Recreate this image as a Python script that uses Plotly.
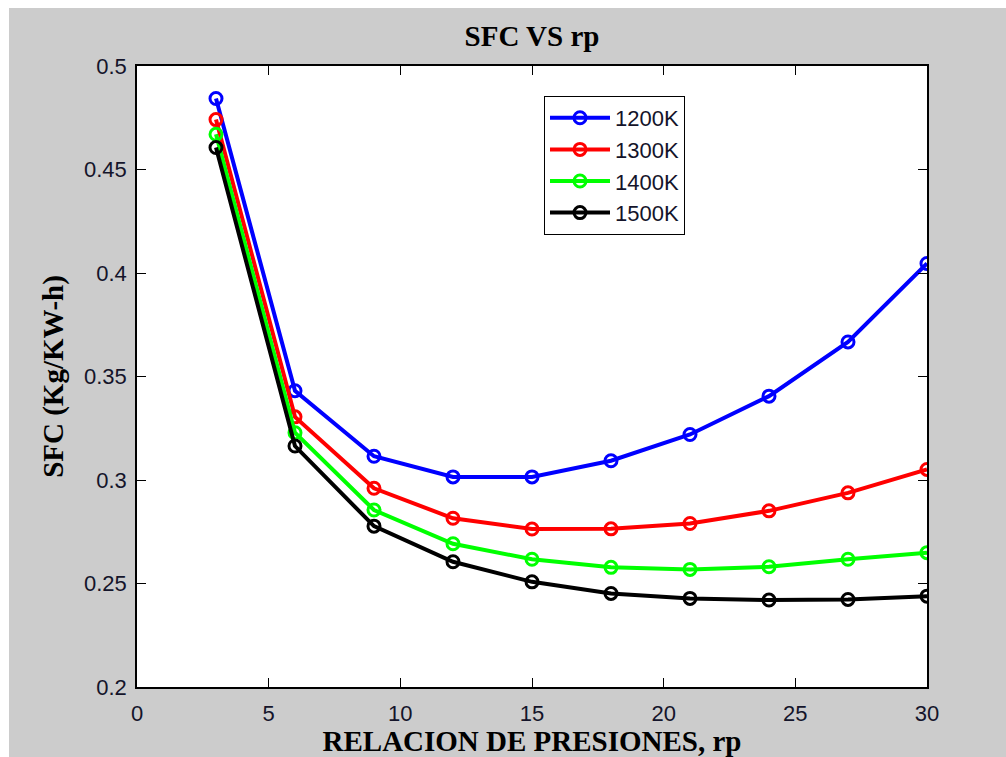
import plotly.graph_objects as go

# Specific fuel consumption vs compressor pressure ratio, for four turbine inlet temperatures
rp = [3, 6, 9, 12, 15, 18, 21, 24, 27, 30]
series_names = ["1200K", "1300K", "1400K", "1500K"]
sfc_1200 = [0.4843, 0.3431, 0.3115, 0.3015, 0.3015, 0.3093, 0.3220, 0.3405, 0.3667, 0.4046]
sfc_1300 = [0.4741, 0.3305, 0.2960, 0.2815, 0.2763, 0.2764, 0.2790, 0.2851, 0.2938, 0.3051]
sfc_1400 = [0.4670, 0.3228, 0.2855, 0.2692, 0.2617, 0.2578, 0.2568, 0.2581, 0.2617, 0.2649]
sfc_1500 = [0.4606, 0.3164, 0.2777, 0.2605, 0.2508, 0.2452, 0.2428, 0.2420, 0.2423, 0.2439]
series_values = [sfc_1200, sfc_1300, sfc_1400, sfc_1500]
series_colors = ["#0000ff", "#ff0000", "#00ff00", "#000000"]

x_ticks = [0, 5, 10, 15, 20, 25, 30]
y_ticks = [0.2, 0.25, 0.3, 0.35, 0.4, 0.45, 0.5]

W, H = 1006, 757
ML, MR, MT, MB = 137, 79, 66, 70
PW, PH = W - ML - MR, H - MT - MB

SERIF = "Liberation Serif"
SANS = "Liberation Sans"
TXT = "#14142a"

fig = go.Figure()
for name, vals, col in zip(series_names, series_values, series_colors):
    fig.add_trace(go.Scatter(
        x=rp, y=vals, name=name, mode="lines+markers",
        line=dict(color=col, width=4),
        marker=dict(symbol="circle-open", size=12, color=col, line=dict(color=col, width=3)),
    ))

axis_common = dict(
    showline=True, linecolor="black", linewidth=1.5, mirror="ticks",
    ticks="inside", ticklen=9, tickwidth=1, tickcolor="black",
    showgrid=False, zeroline=False, automargin=False,
    tickfont=dict(family=SANS, size=22, color=TXT),
)

fig.update_layout(
    width=W, height=H,
    margin=dict(l=ML, r=MR, t=MT, b=MB, autoexpand=False),
    paper_bgcolor="#cccccc", plot_bgcolor="white",
    title=dict(text="SFC VS rp", x=0.5, xref="paper", xanchor="center",
               y=1 - 36 / H, yref="container", yanchor="middle",
               font=dict(family=SERIF, size=29, color="black", weight="bold")),
    xaxis=dict(range=[0, 30], tickvals=x_ticks, ticklabelstandoff=6,
               title=dict(text="RELACION DE PRESIONES, rp", standoff=4,
                          font=dict(family=SERIF, size=29, color="black", weight="bold")),
               **axis_common),
    yaxis=dict(range=[0.2, 0.5], tickvals=y_ticks, ticklabelstandoff=4,
               title=dict(text="SFC (Kg/KW-h)", standoff=12,
                          font=dict(family=SERIF, size=29, color="black", weight="bold")),
               **axis_common),
    legend=dict(x=(544 - ML) / PW, y=1 - (96 - MT) / PH, xanchor="left", yanchor="top",
                bgcolor="white", bordercolor="black", borderwidth=1,
                font=dict(family=SANS, size=22, color=TXT),
                itemwidth=60, tracegroupgap=4),
    showlegend=True,
    shapes=[
        # white strips along the top and left edges of the figure
        dict(type="rect", xref="paper", yref="paper", layer="above", line=dict(width=0),
             fillcolor="white", x0=-ML / PW, x1=(W - ML) / PW, y0=1 + (MT - 8) / PH, y1=1 + MT / PH),
        dict(type="rect", xref="paper", yref="paper", layer="above", line=dict(width=0),
             fillcolor="white", x0=-ML / PW, x1=(9 - ML) / PW, y0=-MB / PH, y1=1 + MT / PH),
    ],
)

fig.write_html("out.html")
